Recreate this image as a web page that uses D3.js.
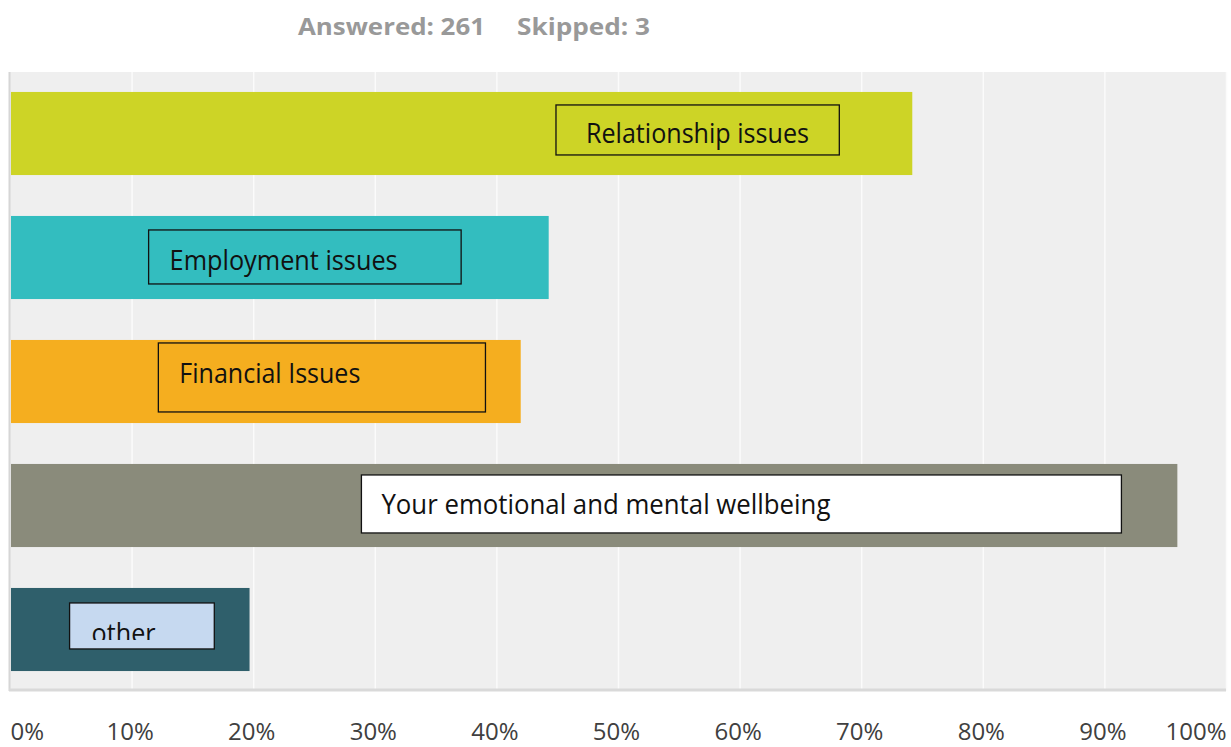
<!DOCTYPE html>
<html lang="en">
<head>
    <meta charset="UTF-8">
    <title>Answered: 261 Skipped: 3</title>
    <style>
        html, body {
            margin: 0;
            padding: 0;
            background: #fff;
        }
        svg {
            display: block;
            font-family: "Open Sans", "Noto Sans", sans-serif;
        }
    </style>
</head>
<body>
    <div class="box"></div>
    <script src="https://d3js.org/d3.v7.min.js"></script>
    <script>
        const width = 1231;
        const height = 747;

        // data
        const categories = ['Relationship issues', 'Employment issues', 'Financial Issues',
            'Your emotional and mental wellbeing', 'other'];
        const values = [74.2, 44.3, 42.0, 96.0, 19.7];
        const barColors = ['#cdd426', '#33bdbf', '#f5ae1f', '#8a8b7b', '#2f5f6b'];
        const tickValues = [0, 10, 20, 30, 40, 50, 60, 70, 80, 90, 100];
        const tickLabels = ['0%', '10%', '20%', '30%', '40%', '50%', '60%', '70%', '80%', '90%', '100%'];

        // callout boxes on each bar (x in % units, y offset from the bar top, text width in px)
        const boxLayout = [
            { x0: 44.9, x1: 68.2, dy0: 13, dy1: 63, tx: 30, ty: 51, tw: 223, fill: 'none', clip: null },
            { x0: 11.4, x1: 37.1, dy0: 14, dy1: 68, tx: 21, ty: 54, tw: 228, fill: 'none', clip: null },
            { x0: 12.2, x1: 39.1, dy0: 3, dy1: 72, tx: 21, ty: 43, tw: 181, fill: 'none', clip: null },
            { x0: 28.9, x1: 91.4, dy0: 11, dy1: 69, tx: 20, ty: 50, tw: 449, fill: '#ffffff', clip: null },
            { x0: 4.9, x1: 16.8, dy0: 15, dy1: 61, tx: 22, ty: 55, tw: 64, fill: '#c6d9f0', clip: 52 }
        ];

        const plot = { left: 10, right: 1226, top: 72, bottom: 691 };

        const svg = d3.select('.box')
            .append('svg')
            .attr('width', width)
            .attr('height', height);

        const x = d3.scaleLinear()
            .domain([0, 100])
            .range([plot.left, plot.right]);

        const y = d3.scaleBand()
            .domain(categories)
            .range([plot.top - 0.5, plot.bottom + 0.5])
            .paddingInner(0.33)
            .paddingOuter(0.165);

        // header
        svg.append('text')
            .attr('x', 298).attr('y', 35)
            .attr('fill', '#999999')
            .attr('font-size', 24).attr('font-weight', 'bold')
            .attr('textLength', 187).attr('lengthAdjust', 'spacingAndGlyphs')
            .text('Answered: 261');
        svg.append('text')
            .attr('x', 517).attr('y', 35)
            .attr('fill', '#999999')
            .attr('font-size', 24).attr('font-weight', 'bold')
            .attr('textLength', 133).attr('lengthAdjust', 'spacingAndGlyphs')
            .text('Skipped: 3');

        // plot background
        svg.append('rect')
            .attr('x', plot.left - 1).attr('y', plot.top)
            .attr('width', plot.right - plot.left + 1)
            .attr('height', plot.bottom - plot.top)
            .attr('fill', '#efefef');

        // grid lines
        const grid = d3.axisBottom(x)
            .tickValues(tickValues.slice(1))
            .tickSize(-(plot.bottom - plot.top))
            .tickFormat('');
        svg.append('g')
            .attr('transform', `translate(0, ${plot.bottom})`)
            .call(grid)
            .call(g => g.select('.domain').remove())
            .call(g => g.selectAll('.tick line').attr('stroke', '#fbfbfb').attr('stroke-width', 1.5));

        // borders
        svg.append('line')
            .attr('x1', plot.left - 0.5).attr('x2', plot.left - 0.5)
            .attr('y1', plot.top).attr('y2', plot.bottom)
            .attr('stroke', '#d6d6d6').attr('stroke-width', 2);
        svg.append('line')
            .attr('x1', plot.left - 1).attr('x2', plot.right)
            .attr('y1', plot.bottom - 1).attr('y2', plot.bottom - 1)
            .attr('stroke', '#d9d9d9').attr('stroke-width', 3);

        // bars
        svg.append('g').selectAll('rect')
            .data(categories)
            .enter().append('rect')
            .attr('x', x(0) + 1)
            .attr('y', d => y(d))
            .attr('width', (d, i) => x(values[i]) - x(0) - 1)
            .attr('height', y.bandwidth())
            .attr('fill', (d, i) => barColors[i]);

        // callout boxes with labels
        const defs = svg.append('defs');
        const boxes = svg.append('g').selectAll('g')
            .data(categories)
            .enter().append('g');

        boxes.append('rect')
            .attr('x', (d, i) => x(boxLayout[i].x0))
            .attr('y', (d, i) => y(d) + boxLayout[i].dy0)
            .attr('width', (d, i) => x(boxLayout[i].x1) - x(boxLayout[i].x0))
            .attr('height', (d, i) => boxLayout[i].dy1 - boxLayout[i].dy0)
            .attr('fill', (d, i) => boxLayout[i].fill)
            .attr('stroke', '#111')
            .attr('stroke-width', 1.3);

        boxes.each(function (d, i) {
            const b = boxLayout[i];
            if (b.clip === null) return;
            defs.append('clipPath').attr('id', 'clip' + i)
                .append('rect')
                .attr('x', x(b.x0))
                .attr('y', y(d) + b.dy0)
                .attr('width', x(b.x1) - x(b.x0))
                .attr('height', b.clip - b.dy0);
        });

        boxes.append('text')
            .attr('x', (d, i) => x(boxLayout[i].x0) + boxLayout[i].tx)
            .attr('y', (d, i) => y(d) + boxLayout[i].ty)
            .attr('font-size', 27)
            .attr('fill', '#111')
            .attr('textLength', (d, i) => boxLayout[i].tw)
            .attr('lengthAdjust', 'spacingAndGlyphs')
            .attr('clip-path', (d, i) => boxLayout[i].clip === null ? null : `url(#clip${i})`)
            .text(d => d);

        // x axis labels
        const xAxis = d3.axisBottom(x)
            .tickValues(tickValues)
            .tickSize(0)
            .tickFormat((d, i) => tickLabels[i]);
        svg.append('g')
            .attr('transform', 'translate(0, 718)')
            .call(xAxis)
            .call(g => g.select('.domain').remove())
            .call(g => g.selectAll('.tick text')
                .attr('y', 0)
                .attr('dy', '0.9em')
                .attr('font-size', 24)
                .attr('font-family', '"Open Sans", "Noto Sans", sans-serif')
                .attr('fill', '#404040')
                .attr('dx', (d, i) => i === 0 ? 0 : (i === tickValues.length - 1 ? 0 : -2))
                .attr('text-anchor', (d, i) => i === 0 ? 'start' : (i === tickValues.length - 1 ? 'end' : 'middle')));
    </script>
</body>
</html>
